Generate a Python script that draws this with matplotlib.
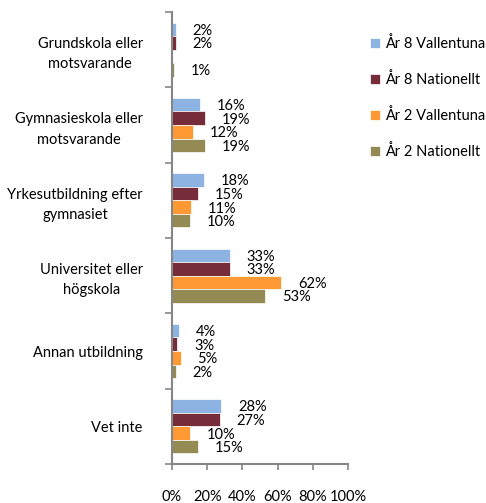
import numpy as np
import matplotlib
matplotlib.use("Agg")
import matplotlib.pyplot as plt

plt.rcParams['font.family'] = ['Lato', 'DejaVu Sans']

# data
kategorier = ["Grundskola eller\nmotsvarande",
              "Gymnasieskola eller\nmotsvarande",
              "Yrkesutbildning efter\ngymnasiet",
              "Universitet eller\nhögskola",
              "Annan utbildning",
              "Vet inte"]
serier = ["År 8 Vallentuna", "År 8 Nationellt", "År 2 Vallentuna", "År 2 Nationellt"]
ar8_vallentuna = [2, 16, 18, 33, 4, 28]
ar8_nationellt = [2, 19, 15, 33, 3, 27]
ar2_vallentuna = [0, 12, 11, 62, 5, 10]
ar2_nationellt = [1, 19, 10, 53, 2, 15]
x_ticks = [0, 20, 40, 60, 80, 100]

farger = ['#8DB3E2', '#772C3A', '#FF9933', '#948A54']
alla = [ar8_vallentuna, ar8_nationellt, ar2_vallentuna, ar2_nationellt]

fig = plt.figure(figsize=(4.86, 5.03), dpi=100)
ax = fig.add_axes([172/486, 1-464/503, 176/486, 452/503])

y = np.arange(len(kategorier))
h = 0.18
offs = [-1.5*h, -0.5*h, 0.5*h, 1.5*h]

for vals, c, o, namn in zip(alla, farger, offs, serier):
    ax.barh(y + o, vals, height=h, color=c, edgecolor='white',
            linewidth=0.5, label=namn)
    # etiketter, hoppa over nollor
    for v, yy in zip(vals, y + o):
        if v == 0:
            continue
        ax.annotate("%d%%" % v, (v, yy), xytext=(12, -1), textcoords='offset points',
                    ha='left', va='center', fontsize=10.5, color='black')

ax.set_xlim(0, 100)
ax.set_ylim(len(kategorier) - 0.5, -0.5)

ax.set_xticks(x_ticks)
ax.set_xticklabels(["%d%%" % t for t in x_ticks], fontsize=10.5)
ax.tick_params(axis='x', length=4, width=1.2, color='#868686', pad=15)

ax.set_yticks(np.arange(len(kategorier) + 1) - 0.5)
ax.set_yticklabels([])
ax.set_yticks(y, minor=True)
ax.set_yticklabels(kategorier, minor=True, fontsize=10.5, multialignment='center',
                   linespacing=1.55)
ax.tick_params(axis='y', which='major', length=5, width=1.2, color='#868686')
ax.tick_params(axis='y', which='minor', length=0, pad=21)

for s in ['top', 'right']:
    ax.spines[s].set_visible(False)
for s in ['left', 'bottom']:
    ax.spines[s].set_color('#868686')
    ax.spines[s].set_linewidth(1.5)

fig.legend(loc='upper left', bbox_to_anchor=(370/486, 1-36/503), frameon=False,
           fontsize=10.5, handlelength=0.7, handleheight=0.7, handletextpad=0.3,
           labelspacing=1.45, borderpad=0, borderaxespad=0)

fig.savefig("out.png", dpi=100)
